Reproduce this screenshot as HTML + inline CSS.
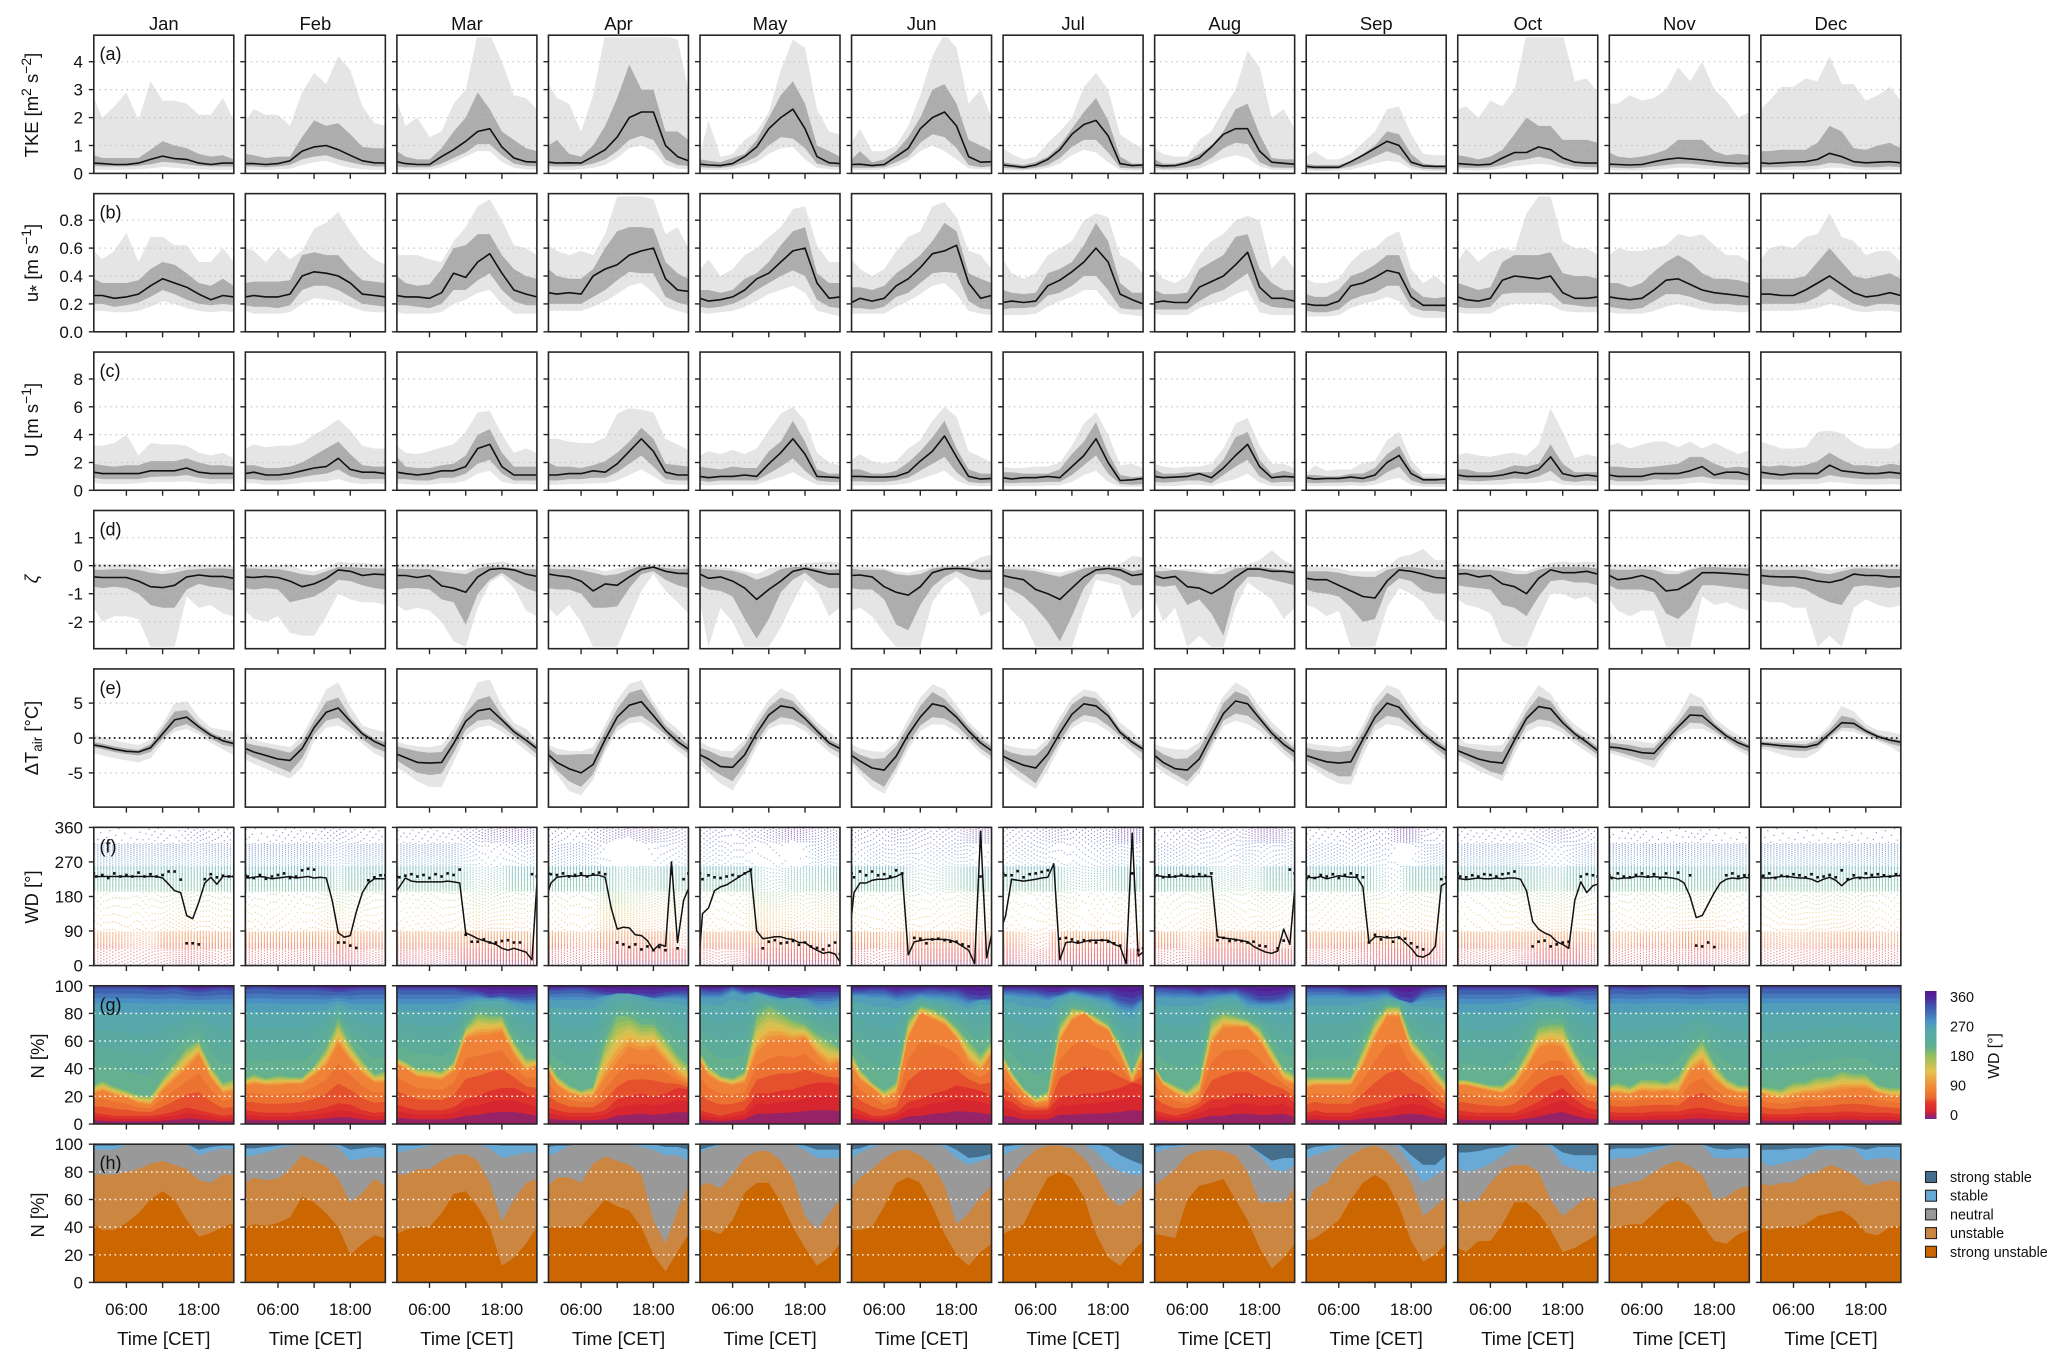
<!DOCTYPE html>
<html lang="en">
<head>
<meta charset="utf-8">
<title>Monthly diurnal cycles of turbulence and wind</title>
<style>
html,body{margin:0;padding:0;background:#fff;}
svg{display:block;font-family:"Liberation Sans",sans-serif;}
</style>
</head>
<body>
<svg id="chart" xmlns="http://www.w3.org/2000/svg" width="2067" height="1368" viewBox="0 0 2067 1368"></svg>
<script>
const months=['Jan','Feb','Mar','Apr','May','Jun','Jul','Aug','Sep','Oct','Nov','Dec'];
const hours=[0.6,2,4,6,8,10,12,14,16,18,20,22,23.8];
const windHours=[0.6,1,2,3,4,5,6,7,8,9,10,11,12,13,14,15,16,17,18,19,20,21,22,23,23.8];
const timeTicks=[6,12,18];
const timeLabels=['06:00','','18:00'];

const tkeP95=[[2.7,2.0,2.4,2.9,1.9,3.3,2.6,2.6,2.5,2.1,2.1,2.7,1.9],[1.9,2.3,2.1,2.1,1.7,2.9,3.6,3.2,4.2,3.7,2.4,1.8,1.7],[2.6,1.7,2.0,1.3,1.5,2.5,3.0,5,5,4,2.8,2.7,2.3],[3.2,2.7,2.5,1.5,2.8,5,5,5,5,5,4.9,4.8,3.0],[.7,1.9,.6,.7,1.2,1.5,2.2,3.7,4.8,4.5,2.3,1.5,1.4],[1.1,1.6,.8,.8,1.0,1.7,2.8,4.2,5,4.5,2.5,3,2],[.9,.7,.5,.6,1.1,1.5,2.0,3.1,3.6,3.0,1.4,1.1,.9],[.9,.7,.6,.6,1.2,1.5,2.3,3.0,4.4,3.8,2.0,2.3,1.6],[.6,.8,.5,.5,.7,1.1,1.5,2.3,2.4,1.4,.7,.65,.65],[2.3,2.4,2.0,2.6,2.4,3.0,5,5,5,5,3.3,3.4,2.9],[2.5,2.5,2.8,2.6,2.7,3.0,3.8,3.3,4.0,3.0,2.6,2.0,2.2],[2.3,2.6,3.1,3.1,3.4,3.3,4.2,3.2,3.2,2.6,2.8,3.1,2.6]];
const tkeP75=[[.65,.55,.55,.55,.55,.85,1.15,1.0,.9,.7,.6,.65,.5],[.7,.65,.55,.6,.6,1.3,1.9,1.7,1.8,1.4,.95,.9,.9],[.8,.6,.5,.5,.9,1.5,2.0,2.9,2.3,1.5,1.2,.9,.8],[1.0,1.2,.7,.6,1.0,1.7,2.7,3.9,3.0,3.0,1.5,1.5,1.2],[.5,.45,.4,.55,.7,1.2,2,2.8,3.3,2.5,1,.8,.6],[.5,.8,.4,.5,.8,1.3,2,3.0,3.2,2.5,1.2,1.0,.8],[.4,.35,.3,.4,.6,1.0,1.6,2.2,2.7,1.9,.6,.35,.35],[.5,.35,.35,.45,.7,1.0,1.5,2.3,2.5,1.4,.55,.5,.5],[.35,.3,.3,.3,.45,.7,1.0,1.5,1.4,.7,.35,.3,.3],[.65,.6,.5,.6,.85,1.4,2.0,1.7,1.7,1.2,1.2,1.2,1.1],[.75,.6,.55,.6,.7,.85,1.2,1.2,1.2,.8,.65,.7,.65],[.8,.8,.85,.85,.85,1.1,1.7,1.5,.9,.85,1.0,1.1,.9]];
const tkeMed=[[.37,.35,.32,.32,.37,.5,.62,.53,.5,.37,.32,.37,.37],[.35,.35,.32,.35,.45,.8,.95,1.0,.85,.65,.45,.38,.37],[.42,.35,.32,.32,.6,.85,1.15,1.5,1.6,.95,.55,.42,.4],[.4,.37,.38,.37,.6,.85,1.3,2.0,2.2,2.2,1.0,.6,.45],[.33,.3,.28,.35,.6,.95,1.6,2.0,2.3,1.6,.6,.38,.35],[.32,.33,.28,.32,.6,.9,1.6,2.0,2.2,1.7,.6,.4,.42],[.3,.27,.22,.3,.5,.85,1.4,1.75,1.9,1.35,.35,.28,.3],[.3,.27,.28,.38,.55,.95,1.4,1.6,1.6,.8,.4,.36,.33],[.25,.22,.22,.22,.42,.65,.9,1.15,1.0,.4,.27,.25,.25],[.35,.33,.3,.33,.55,.75,.75,.95,.85,.55,.4,.37,.37],[.33,.32,.3,.32,.42,.5,.55,.52,.48,.42,.38,.35,.37],[.38,.35,.38,.4,.42,.5,.72,.6,.42,.38,.4,.42,.38]];
const tkeP25=[[.27,.25,.25,.25,.27,.33,.42,.38,.33,.27,.25,.25,.25],[.25,.25,.22,.25,.3,.5,.6,.65,.5,.4,.3,.25,.25],[.25,.22,.22,.22,.35,.55,.75,1.05,1.05,.65,.35,.27,.25],[.27,.25,.25,.27,.35,.5,.8,1.2,1.35,1.2,.5,.3,.27],[.23,.2,.2,.25,.4,.6,1.0,1.3,1.25,.9,.35,.25,.22],[.2,.2,.2,.22,.4,.6,1.1,1.4,1.3,.9,.3,.22,.25],[.2,.18,.15,.2,.3,.55,.95,1.2,1.2,.75,.2,.18,.18],[.2,.17,.18,.22,.3,.55,.9,1.1,1.05,.4,.22,.2,.2],[.17,.15,.15,.17,.25,.4,.6,.8,.65,.27,.17,.15,.15],[.22,.2,.2,.22,.3,.45,.5,.6,.5,.35,.25,.23,.22],[.22,.2,.18,.2,.25,.3,.35,.35,.3,.27,.23,.22,.2],[.22,.22,.22,.25,.25,.28,.38,.35,.25,.22,.22,.25,.22]];
const tkeP05=[[.15,.13,.13,.13,.15,.18,.23,.2,.17,.15,.13,.13,.13],[.15,.13,.13,.15,.17,.3,.4,.45,.3,.2,.15,.13,.13],[.13,.13,.13,.13,.22,.4,.6,.8,.8,.4,.2,.15,.13],[.15,.13,.13,.15,.2,.3,.55,.9,1.0,.8,.3,.17,.15],[.13,.12,.12,.15,.25,.4,.7,.9,.95,.5,.2,.15,.12],[.12,.12,.12,.15,.25,.45,.8,1.0,.8,.5,.18,.15,.15],[.12,.1,.1,.12,.2,.35,.65,.85,.75,.4,.12,.1,.1],[.12,.1,.1,.12,.18,.35,.55,.65,.55,.25,.13,.12,.12],[.1,.08,.08,.1,.13,.25,.35,.45,.4,.15,.1,.08,.08],[.13,.12,.1,.12,.18,.25,.3,.35,.3,.2,.15,.13,.12],[.12,.1,.1,.1,.13,.17,.2,.2,.17,.15,.13,.12,.1],[.12,.12,.12,.13,.13,.15,.2,.2,.15,.12,.12,.13,.12]];

const ustarP95=[[.58,.52,.58,.71,.5,.68,.68,.62,.62,.5,.5,.6,.5],[.6,.58,.5,.6,.52,.58,.74,.78,.86,.72,.6,.52,.48],[.55,.55,.55,.52,.5,.65,.75,.9,.95,.8,.62,.6,.55],[.62,.58,.55,.58,.55,.7,.97,.97,.97,.95,.7,.75,.6],[.45,.52,.4,.45,.55,.6,.68,.75,.88,.9,.62,.5,.5],[.52,.45,.4,.45,.58,.68,.72,.9,.93,.82,.58,.55,.45],[.52,.42,.38,.42,.55,.6,.65,.8,.85,.82,.55,.5,.42],[.45,.38,.35,.4,.55,.65,.7,.8,.83,.8,.45,.55,.45],[.38,.35,.35,.38,.5,.58,.6,.68,.72,.45,.35,.4,.33],[.5,.6,.5,.57,.6,.58,.85,.97,.97,.65,.6,.6,.55],[.55,.6,.58,.58,.6,.62,.7,.68,.7,.62,.55,.55,.5],[.52,.6,.62,.6,.68,.7,.85,.68,.65,.55,.58,.58,.5]];
const ustarP75=[[.38,.35,.35,.35,.37,.45,.5,.48,.42,.35,.33,.38,.33],[.35,.36,.36,.36,.37,.55,.57,.55,.55,.45,.37,.36,.35],[.4,.35,.33,.34,.45,.6,.62,.7,.7,.55,.45,.4,.38],[.45,.4,.38,.38,.45,.6,.72,.75,.75,.74,.5,.42,.38],[.3,.3,.28,.3,.38,.42,.5,.62,.72,.75,.42,.35,.35],[.32,.32,.3,.33,.42,.48,.55,.65,.78,.72,.42,.38,.35],[.3,.28,.27,.28,.42,.45,.5,.62,.78,.65,.35,.28,.28],[.3,.27,.27,.28,.45,.5,.55,.68,.7,.45,.35,.3,.3],[.27,.25,.25,.3,.4,.43,.48,.55,.55,.32,.25,.24,.25],[.35,.33,.3,.32,.5,.55,.55,.55,.57,.42,.4,.4,.38],[.35,.35,.32,.35,.43,.5,.55,.5,.42,.38,.38,.37,.35],[.38,.38,.38,.38,.4,.5,.6,.5,.4,.38,.4,.42,.38]];
const ustarMed=[[.26,.26,.24,.25,.27,.33,.38,.35,.32,.27,.23,.26,.25],[.25,.26,.25,.25,.27,.4,.43,.42,.4,.35,.27,.26,.25],[.26,.25,.25,.24,.28,.42,.39,.5,.56,.42,.3,.27,.25],[.28,.27,.28,.27,.4,.45,.48,.55,.58,.6,.38,.3,.29],[.24,.22,.23,.25,.3,.38,.42,.5,.58,.6,.35,.24,.25],[.21,.24,.22,.24,.33,.38,.46,.56,.58,.62,.35,.24,.26],[.21,.22,.21,.22,.33,.37,.43,.5,.6,.5,.27,.23,.2],[.21,.22,.21,.21,.32,.36,.4,.48,.57,.32,.24,.24,.22],[.2,.19,.19,.22,.33,.35,.39,.44,.42,.25,.19,.19,.19],[.25,.23,.22,.24,.37,.4,.39,.38,.4,.28,.24,.24,.25],[.25,.24,.23,.24,.3,.37,.38,.34,.3,.28,.27,.26,.25],[.27,.27,.26,.26,.3,.35,.4,.34,.28,.25,.26,.28,.26]];
const ustarP25=[[.2,.2,.18,.19,.21,.25,.3,.27,.23,.2,.19,.2,.19],[.19,.18,.18,.17,.19,.3,.33,.33,.3,.25,.2,.19,.18],[.19,.19,.18,.17,.2,.3,.3,.37,.42,.3,.22,.19,.19],[.2,.2,.2,.2,.25,.3,.37,.43,.42,.42,.25,.21,.19],[.18,.17,.18,.2,.24,.3,.35,.4,.44,.4,.23,.18,.17],[.17,.17,.16,.18,.25,.28,.35,.42,.43,.42,.22,.17,.16],[.16,.17,.17,.18,.26,.28,.33,.4,.4,.3,.17,.16,.16],[.16,.16,.16,.16,.22,.27,.3,.36,.42,.22,.18,.17,.17],[.15,.14,.14,.16,.23,.26,.28,.33,.33,.18,.15,.15,.14],[.18,.17,.17,.18,.27,.28,.28,.28,.28,.2,.19,.18,.18],[.18,.17,.16,.17,.22,.27,.27,.25,.22,.2,.2,.19,.19],[.2,.2,.2,.2,.21,.25,.31,.25,.2,.18,.2,.2,.19]];
const ustarP05=[[.15,.15,.14,.14,.15,.18,.22,.2,.17,.15,.14,.15,.14],[.15,.13,.13,.13,.14,.2,.24,.23,.22,.18,.15,.14,.14],[.14,.13,.13,.13,.14,.2,.23,.28,.3,.2,.13,.13,.13],[.15,.15,.15,.15,.18,.22,.27,.33,.35,.28,.18,.15,.13],[.14,.13,.14,.15,.18,.22,.27,.3,.33,.28,.15,.13,.11],[.13,.13,.13,.13,.18,.22,.27,.33,.35,.27,.15,.13,.12],[.12,.12,.12,.13,.18,.22,.25,.3,.3,.2,.13,.12,.11],[.13,.12,.12,.12,.17,.2,.22,.27,.3,.14,.12,.12,.12],[.11,.11,.11,.12,.17,.2,.22,.25,.22,.12,.1,.1,.1],[.14,.13,.13,.13,.18,.2,.2,.2,.19,.15,.14,.14,.14],[.14,.13,.13,.13,.15,.18,.2,.18,.16,.15,.15,.14,.14],[.15,.15,.15,.15,.16,.17,.2,.18,.15,.14,.15,.15,.14]];

const speedP95=[[3.2,3.2,3.4,4.0,2.5,3.4,3.3,3.3,3.2,2.7,2.5,2.7,2.3],[3,3.3,3.1,3.2,3.2,3.4,4,4.5,5.1,4.3,3.2,3,3],[3.2,2.7,2.6,2.8,3.1,3.3,4.2,5.6,5.7,4,2.7,3,2.7],[3.7,3.7,3.5,3.4,3.4,3.8,5.5,5.9,5.8,5.6,3.7,3.3,2.9],[2.5,2.8,2.6,2.9,2.6,3.0,4.3,5.5,6,5,2.7,2,1.8],[2.2,2.6,2.1,1.9,2.1,3,3.6,5,6,5.3,2.8,2.4,2],[1.7,1.6,1.6,1.7,1.7,2,3.2,4.8,5.6,4,1.8,1.9,1.6],[1.9,1.7,1.6,1.7,1.7,1.9,3,4.8,5.2,3.2,1.9,1.9,1.6],[1.2,1.8,1.4,1.5,1.5,2,2.1,3.6,4.2,2.2,1.2,1.2,1.1],[2.5,2.7,2.5,2.4,2.6,2.7,2.5,3.3,5.9,4.2,2.3,2.6,2.4],[3.2,3.4,3,3.3,3.5,3.5,3.1,3.5,3,3.4,3,2.6,2.9],[3.5,3.3,3,3,3.1,4.2,4.3,4.1,3.4,3,3,3,3.5]];
const speedP75=[[1.9,1.8,1.7,1.8,1.8,2.1,2.1,2.1,2.3,2.0,1.8,1.8,1.7],[1.8,1.8,1.6,1.6,1.7,2,2.5,3,3.5,2.6,1.8,1.7,1.7],[2.4,1.7,1.6,1.6,1.8,1.9,2.5,4,4.4,2.7,1.7,1.7,1.7],[2,1.7,1.7,1.6,1.8,2.1,2.7,3.5,4.5,3.7,1.9,1.8,1.7],[1.7,1.6,1.5,1.7,1.6,1.6,2.8,3.5,5,3.5,1.5,1.2,1.2],[1.5,1.5,1.2,1.2,1.4,2,2.8,3.8,5,3,1.5,1.2,1.2],[1.3,1.3,1.2,1.2,1.2,1.5,2.6,3.5,4.9,2.7,1.1,.95,1],[1.5,1.2,1.2,1.3,1.3,1.3,2.2,3.8,4.2,2.2,1.2,1.4,1.2],[1.1,1.1,1,1,1.2,1.2,1.6,2.6,3.2,1.6,.9,.9,.8],[1.5,1.5,1.3,1.3,1.5,1.8,1.7,1.9,3.3,1.9,1.3,1.3,1.3],[1.7,1.7,1.6,1.6,1.7,1.8,1.9,2.4,2.4,1.9,1.6,1.7,1.6],[1.8,1.7,1.8,1.7,1.8,2.1,2.7,2.2,1.8,1.8,1.7,1.9,1.8]];
const speedMed=[[1.3,1.2,1.2,1.2,1.2,1.4,1.4,1.4,1.6,1.3,1.2,1.2,1.2],[1.2,1.3,1.1,1.1,1.2,1.4,1.6,1.7,2.3,1.5,1.3,1.3,1.2],[1.3,1.2,1.1,1.2,1.4,1.4,1.7,3.0,3.3,1.7,1.1,1.1,1.1],[1.1,1.1,1.2,1.2,1.4,1.3,1.9,2.8,3.7,2.8,1.3,1.1,1.1],[1,.9,1,1,1.1,1,1.9,2.7,3.7,2.6,1,.95,.9],[1,1,.95,.95,1,1.3,2.1,2.8,3.9,2.4,1,.8,.85],[.9,.8,.9,.9,1,.9,1.7,2.5,3.7,2.0,.7,.75,.85],[1,.9,.95,1,1.2,.9,1.6,2.5,3.3,1.7,.9,1,.95],[.9,.8,.85,.85,.95,.85,1.1,2.0,2.5,1.2,.75,.75,.8],[1.1,1,1,1,1.1,1.3,1.2,1.5,2.4,1.2,1,1.1,1],[1.1,1,1,1,1.2,1.2,1.2,1.4,1.7,1.1,1.3,1.3,1.1],[1.3,1.2,1.1,1.2,1.2,1.2,1.8,1.4,1.3,1.2,1.2,1.3,1.2]];
const speedP25=[[.9,.8,.8,.8,.8,.95,1,1,1.1,.9,.8,.8,.8],[.8,.8,.7,.7,.8,.95,1.1,1.2,1.5,1.0,.8,.8,.8],[.8,.8,.7,.7,.9,.9,1.2,1.9,2.2,1.2,.7,.7,.7],[.7,.7,.8,.8,.9,.9,1.3,1.9,2.5,1.7,.8,.7,.7],[.7,.6,.7,.7,.7,.7,1.2,1.7,2.3,1.4,.7,.6,.6],[.65,.65,.6,.6,.7,.9,1.4,1.9,2.4,1.3,.6,.5,.55],[.55,.5,.55,.55,.6,.6,1.1,1.8,2.5,1.2,.45,.4,.45],[.6,.55,.6,.7,.7,.5,1.1,1.7,2.2,1,.55,.6,.6],[.55,.5,.55,.55,.6,.55,.7,1.3,1.7,.7,.45,.45,.45],[.75,.7,.65,.7,.75,.85,.8,1,1.4,.7,.6,.7,.65],[.75,.65,.65,.65,.8,.75,.8,.9,1,.8,.8,.75,.7],[.85,.8,.75,.8,.8,.8,1.1,.95,.85,.8,.8,.85,.8]];
const speedP05=[[.55,.45,.45,.45,.5,.6,.6,.6,.65,.55,.45,.5,.45],[.5,.5,.4,.4,.45,.55,.6,.65,.8,.55,.45,.5,.45],[.5,.45,.4,.4,.5,.5,.7,1.2,1.4,.6,.45,.45,.4],[.4,.4,.45,.45,.5,.5,.7,1.1,1.5,1,.45,.4,.4],[.4,.35,.4,.4,.4,.4,.7,.95,1.3,.8,.4,.35,.35],[.35,.35,.35,.35,.4,.5,.8,1.1,1.4,.7,.35,.3,.3],[.3,.3,.3,.3,.35,.35,.6,1.1,1.4,.6,.25,.25,.25],[.35,.3,.3,.4,.4,.3,.6,.8,1.2,.55,.3,.3,.3],[.3,.3,.3,.3,.35,.3,.4,.7,.9,.4,.25,.25,.25],[.45,.4,.4,.4,.4,.5,.5,.55,.7,.4,.35,.35,.35],[.4,.35,.35,.35,.4,.4,.4,.5,.55,.45,.4,.4,.35],[.45,.4,.4,.4,.45,.45,.6,.55,.45,.4,.4,.45,.4]];

const zetaP95=[[.1,.05,.05,.05,.05,-.1,-.2,-.1,0,.05,0,0,0],[.05,0,0,0,.05,-.15,-.2,-.1,.15,.1,.1,.05,.05],[.05,.05,.05,.05,0,-.15,-.15,.05,.1,.15,.05,0,.05],[.05,0,0,-.05,-.1,-.2,-.1,-.05,.05,.08,.05,0,0],[.02,-.02,-.05,-.1,-.2,-.3,-.1,-.02,.02,.1,.12,.15,.1],[0,-.05,-.05,-.1,-.2,-.25,-.15,-.05,0,0,.05,.3,.4],[.02,-.05,-.05,-.1,-.2,-.25,-.15,-.05,0,.05,.05,.35,.3],[0,-.05,-.15,-.1,-.15,-.25,-.1,0,.05,.2,.55,.2,0],[0,-.05,-.05,-.1,-.2,-.2,-.2,-.05,.3,.4,.6,.2,.2],[.1,.05,0,-.05,-.05,-.15,-.2,-.05,.1,.15,.1,.15,.1],[.05,.05,0,0,.02,-.15,-.2,-.1,.05,.05,.05,.05,.05],[.05,0,0,0,0,-.1,-.15,-.1,0,0,.05,.05,.05]];
const zetaP75=[[-.15,-.15,-.12,-.12,-.15,-.25,-.3,-.25,-.15,-.12,-.1,-.1,-.12],[-.1,-.1,-.12,-.12,-.2,-.3,-.35,-.2,-.05,-.05,-.08,-.1,-.1],[-.1,-.12,-.12,-.12,-.2,-.25,-.3,-.1,-.02,-.03,-.1,-.12,-.12],[-.1,-.12,-.12,-.15,-.25,-.35,-.3,-.15,0,-.02,-.08,-.12,-.1],[-.1,-.12,-.15,-.18,-.3,-.5,-.35,-.12,-.05,-.03,-.1,-.15,-.12],[-.1,-.15,-.15,-.15,-.3,-.35,-.3,-.1,-.05,-.02,-.05,-.12,-.1],[-.12,-.12,-.15,-.2,-.3,-.4,-.25,-.1,-.03,-.03,-.05,-.2,-.12],[-.2,-.2,-.15,-.2,-.25,-.3,-.3,-.1,-.05,-.05,-.1,-.15,-.15],[-.2,-.2,-.2,-.25,-.35,-.4,-.4,-.15,-.05,-.05,-.1,-.15,-.15],[-.1,-.12,-.15,-.15,-.2,-.3,-.3,-.15,-.05,-.05,-.05,-.05,-.1],[-.12,-.15,-.15,-.12,-.15,-.3,-.3,-.15,-.05,-.05,-.07,-.08,-.1],[-.12,-.15,-.15,-.15,-.15,-.25,-.3,-.2,-.1,-.1,-.12,-.12,-.12]];
const zetaMed=[[-.4,-.42,-.42,-.42,-.55,-.75,-.78,-.7,-.4,-.33,-.38,-.38,-.45],[-.4,-.42,-.38,-.42,-.55,-.75,-.65,-.45,-.15,-.2,-.35,-.3,-.32],[-.35,-.35,-.42,-.35,-.72,-.8,-.95,-.4,-.13,-.1,-.15,-.3,-.38],[-.3,-.35,-.4,-.55,-.9,-.65,-.7,-.4,-.13,-.05,-.2,-.27,-.28],[-.3,-.45,-.4,-.55,-.8,-1.2,-.85,-.55,-.2,-.1,-.2,-.3,-.3],[-.35,-.33,-.4,-.75,-.95,-1.05,-.75,-.25,-.12,-.1,-.12,-.2,-.2],[-.35,-.42,-.5,-.85,-1,-1.2,-.8,-.4,-.15,-.1,-.15,-.35,-.3],[-.35,-.45,-.38,-.75,-.8,-1,-.75,-.4,-.12,-.12,-.2,-.2,-.25],[-.45,-.5,-.5,-.7,-.9,-1.1,-1.15,-.55,-.15,-.2,-.3,-.42,-.45],[-.3,-.28,-.4,-.35,-.65,-.75,-1,-.45,-.15,-.25,-.25,-.2,-.3],[-.35,-.5,-.45,-.35,-.5,-.9,-.85,-.6,-.25,-.25,-.27,-.3,-.33],[-.35,-.38,-.4,-.4,-.45,-.55,-.6,-.5,-.3,-.35,-.35,-.4,-.4]];
const zetaP25=[[-.75,-.8,-.75,-.8,-1,-1.4,-1.5,-1.5,-.85,-.65,-.75,-.8,-.9],[-.8,-.85,-.8,-.85,-1.3,-1.2,-1.1,-.85,-.5,-.55,-.7,-.8,-.85],[-.85,-.8,-.8,-.85,-1.2,-1.3,-2.1,-1,-.5,-.25,-.55,-.8,-.95],[-.8,-.85,-.85,-1,-1.5,-1.5,-1.45,-.8,-.3,-.2,-.5,-.7,-.8],[-.7,-.85,-.9,-1.1,-1.9,-2.6,-1.9,-.95,-.5,-.25,-.6,-.8,-.8],[-.8,-.85,-.85,-1.2,-2.1,-2.3,-1.4,-.75,-.4,-.2,-.4,-.5,-.5],[-.75,-.85,-1.1,-1.5,-2,-2.7,-1.8,-.8,-.3,-.3,-.45,-.7,-.7],[-.7,-.75,-.7,-1.4,-1.2,-1.7,-2.5,-.9,-.4,-.4,-.5,-.6,-.7],[-.85,-.95,-1,-1.1,-1.5,-2.0,-1.9,-.8,-.45,-.55,-.9,-1,-1],[-.7,-.75,-.8,-.85,-1.4,-1.5,-1.8,-1.1,-.55,-.5,-.6,-.6,-.7],[-.7,-.85,-.85,-.85,-.95,-1.7,-1.9,-1.5,-.7,-.7,-.75,-.8,-.85],[-.65,-.7,-.75,-.75,-.85,-1.1,-1.3,-1.4,-.75,-.7,-.75,-.8,-.75]];
const zetaP05=[[-1.5,-2,-1.8,-1.8,-1.9,-2.9,-2.9,-2.9,-1.1,-1.5,-1.4,-1.7,-1.8],[-1.6,-1.9,-2,-1.8,-2.4,-2.5,-2.5,-1.8,-1,-1.2,-1.3,-1.3,-1.4],[-1.4,-1.6,-1.5,-1.6,-2,-2.7,-2.9,-1.5,-.6,-.35,-.8,-1.6,-1.8],[-1.5,-1.8,-1.4,-2.0,-2.9,-2.9,-2.9,-1.9,-.9,-.3,-.9,-1.3,-1.7],[-1.3,-2.9,-1.5,-2,-2.9,-2.9,-2.9,-2.2,-1.3,-.5,-.9,-1.8,-1.5],[-1.6,-1.5,-1.8,-2.4,-2.9,-2.9,-2.9,-1.3,-.7,-.4,-.8,-1.8,-1.6],[-1.2,-1.6,-2,-2.9,-2.9,-2.9,-2.9,-1.6,-.5,-.6,-.7,-1.9,-1.5],[-1.2,-2,-1.5,-2.9,-2.5,-2.9,-2.9,-1.5,-.6,-.9,-1.2,-1.9,-1.5],[-1.4,-1.5,-1.8,-1.6,-2.9,-2.9,-2.9,-1.5,-.8,-1,-1.3,-1.9,-2],[-1.2,-1.4,-1.5,-1.7,-2.7,-2.9,-2.9,-1.9,-1,-1,-1.2,-1.1,-1.4],[-1.2,-1.6,-1.8,-1.6,-1.6,-2.9,-2.9,-2.9,-1.1,-1.4,-1.3,-1.5,-1.6],[-1.2,-1.3,-1.3,-1.5,-1.5,-2.9,-2.5,-2.9,-1.5,-1.2,-1.4,-1.5,-1.4]];

const dtP95=[[.5,.1,-.3,-.7,-1,-.2,2,5,5.3,3,1.5,1.2,.9],[.8,-.2,-.7,-1,-1.3,.3,3.5,7,8,4.5,1.8,1.2,.8],[-.5,-.9,-1.2,-1.3,-1,1.3,4.5,8,8.4,4.6,2.2,1.3,-.3],[-1,-1.5,-1.8,-1.9,-1.3,1.9,5.5,7.8,8.3,5.2,2.7,1.3,-.4],[-.5,-1.2,-1.8,-1.9,-.2,2.8,5.5,7.1,6.3,4.2,2.3,.9,-.5],[-.9,-1.5,-1.9,-2,-.5,2.7,5.8,7.7,7,4.7,2.3,.7,-.8],[-.8,-1.2,-1.5,-1.6,-.1,3,5.7,7,6.6,4.7,2.2,.9,-.7],[-.9,-1.3,-1.6,-1.7,-.6,2.7,6,8,7,4.5,2.3,.7,-1],[-.7,-.9,-1.1,-1.3,-1,1.8,5.5,7.6,7,4.3,2,.7,-.9],[.2,-.8,-.9,-1.1,-1,1.7,5,7.6,6.3,3.7,1.9,.7,-.2],[.8,-.2,-.3,-.5,-.8,1,3.2,6.5,5.6,2.9,1.5,.4,-.2],[.2,.1,-.2,-.4,-.4,.1,1.9,4.6,3.8,2,1.1,.9,.5]];
const dtP75=[[-.6,-.8,-1.2,-1.5,-1.7,-.9,1.4,3.8,4.0,2.1,.8,0,-.4],[-.7,-1,-1.3,-1.7,-2.1,-.6,2.5,5.2,5.8,3,1,-.1,-.6],[-1.2,-1.5,-1.9,-2.1,-2,.3,3.5,5.5,6,3.2,1.4,.2,-1],[-1.5,-2.4,-2.4,-2.3,-2.3,1,4.2,6.5,7,4.5,1.8,.3,-1],[-1.4,-1.8,-2.6,-2.9,-1,1.9,4.4,5.8,5.3,3.4,1.6,-.2,-1],[-1.7,-2.4,-3,-2.9,-1.2,1.7,4.6,6.6,5.6,3.7,1.7,-.1,-1.2],[-1.6,-2.1,-2.5,-2.5,-.9,2,4.8,6,5.7,3.8,1.3,-.2,-1.2],[-1.5,-2.3,-3,-2.9,-1.5,1.5,5,6.7,6,3.4,1.3,-.2,-1.5],[-1.4,-1.7,-1.9,-2,-1.8,.9,4.4,6.5,5.5,3.1,1.1,-.2,-1.3],[-1,-1.3,-1.7,-1.9,-2,.8,3.8,6,5.3,2.9,1,-.1,-1.3],[-.6,-.8,-1,-1.4,-1.4,.5,2.3,4.6,4.5,2.2,.7,-.2,-1],[-.5,-.6,-.7,-.8,-.9,-.3,1.2,3.2,2.8,1.4,.5,0,-.3]];
const dtMed=[[-1,-1.2,-1.6,-1.9,-2,-1.4,.6,2.6,3.0,1.6,.4,-.4,-.8],[-1.5,-2,-2.5,-3,-3.2,-1.5,1.5,3.7,4.3,2.4,.6,-.5,-1.2],[-2.3,-2.8,-3.5,-3.6,-3.5,-.8,2.4,3.9,4.2,2.6,.9,-.3,-1.5],[-2.4,-3.5,-4.4,-5,-3.8,-.2,3,4.7,5.2,3.2,1.1,-.5,-1.6],[-2.4,-3,-4.1,-4.2,-2.4,.7,3.3,4.6,4.3,2.8,1,-.7,-1.5],[-2.5,-3.3,-4.3,-4.6,-2.6,.5,3,4.9,4.5,3,1,-.7,-1.8],[-2.6,-3.2,-3.9,-4.3,-2.3,.7,3.4,4.9,4.6,3.2,.8,-.6,-1.6],[-2.5,-3.5,-4.4,-4.6,-3,.3,3.5,5.3,4.9,2.8,.7,-.9,-2],[-2.5,-2.9,-3.4,-3.6,-3.4,-.2,3,5,4.4,2.4,.6,-.8,-1.8],[-1.8,-2.3,-3,-3.4,-3.6,-.3,2.8,4.5,4.2,2.2,.6,-.6,-1.8],[-1.3,-1.4,-1.7,-2.1,-2.2,-.3,1.6,3.3,3.2,1.7,.3,-.7,-1.3],[-.8,-.9,-1.1,-1.2,-1.3,-.9,.6,2.2,2.1,1,.2,-.3,-.6]];
const dtP25=[[-1.3,-1.6,-2,-2.3,-2.5,-2,-.1,1.5,2.0,1,-.1,-1,-1.3],[-2.2,-2.8,-3.5,-4.2,-4.9,-2.9,.5,2.5,2.9,1.5,-.2,-1.4,-2],[-3.2,-4,-5,-5.3,-5.1,-2.1,1.2,2.5,2.7,1.7,.3,-1,-2.3],[-3,-4.6,-6.2,-7,-5.2,-1.3,1.7,2.9,3.2,2,.5,-1.1,-2.2],[-3,-4.2,-5.3,-6.2,-3.8,-.5,2,3,2.7,1.8,.3,-1.3,-2.2],[-3.3,-4.5,-6,-7,-4.2,-.7,1.8,3,2.8,1.8,.1,-1.5,-2.6],[-3.1,-4,-5.2,-6.5,-3.5,-.5,2.2,3.3,3,1.8,.3,-1.2,-2.2],[-3.2,-4.2,-5.2,-6.2,-4.3,-.8,2.5,3.5,3.2,1.9,.1,-1.6,-2.8],[-3.2,-3.8,-4.7,-5.5,-5.5,-1.3,1.9,3.2,2.9,1.5,0,-1.4,-2.6],[-2.4,-3,-3.9,-4.8,-5.3,-1.3,1.8,2.7,2.4,1.4,-.1,-1.3,-2.4],[-1.7,-2,-2.5,-3,-3.2,-1.1,.8,2.2,2.1,1,-.2,-1.3,-2],[-1.2,-1.3,-1.6,-1.8,-1.9,-1.4,.2,1.5,1.4,.6,-.2,-.8,-1.2]];
const dtP05=[[-2.1,-2.5,-2.9,-3.2,-3.5,-2.9,-.7,.9,1.3,.5,-.7,-1.6,-2.5],[-3.1,-3.7,-4.4,-5.2,-5.8,-4.2,-.4,1.5,1.8,.8,-.8,-2.2,-3],[-4.2,-5,-6.2,-7,-7,-3.5,.3,1.5,1.8,.9,-.4,-1.8,-3],[-3.8,-5.2,-7.6,-8.2,-6,-2,1,2.1,2.3,1.1,-.3,-1.8,-3],[-3.8,-5,-6.5,-7.5,-4.8,-1.3,1.3,2,1.9,1,-.5,-2,-3],[-3.8,-5.2,-7,-8,-5,-1.6,1,2,1.9,.9,-.5,-2.2,-3.3],[-3.8,-5,-6.2,-7.3,-4.6,-1.3,1.4,2.4,2.1,1,-.5,-2,-3.3],[-4,-5,-6,-7,-5,-1.6,1.7,2.5,2,1,-.7,-2.3,-3.6],[-3.8,-4.5,-5.7,-6.5,-6.7,-2.5,1,2,1.7,.8,-.6,-2.1,-3.3],[-3.2,-3.7,-4.7,-5.4,-6.2,-2.3,.9,1.7,1.5,.7,-.8,-2,-3],[-2.1,-2.5,-3,-3.6,-4.3,-1.7,.3,1.3,1.3,.5,-.6,-1.8,-2.6],[-1.5,-1.8,-2.4,-2.8,-2.9,-2,-.2,1,.9,.2,-.5,-1.2,-2.2]];

const wdMedian=[
[232,232,232,232,232,232,232,232,232,232,232,232,228,212,195,190,130,122,165,215,230,212,232,232,232],
[230,228,230,232,230,226,228,230,232,228,230,232,228,230,228,170,85,74,78,140,190,215,226,226,226],
[195,205,228,220,218,218,218,218,218,220,218,215,85,78,70,65,60,55,45,40,45,40,35,15,210],
[195,215,230,232,234,232,235,233,236,235,230,150,95,100,98,80,78,65,40,55,50,270,60,170,200],
[50,135,150,195,205,210,220,230,240,248,90,70,72,75,75,70,68,60,60,48,40,32,35,30,10],
[130,190,215,215,222,225,225,228,232,240,28,62,65,68,68,68,68,66,60,50,40,5,350,20,80],
[110,130,225,222,220,222,225,228,230,265,15,60,62,58,62,66,66,66,66,55,50,5,345,25,35],
[232,234,232,230,232,234,232,232,232,232,232,75,72,70,68,65,62,50,42,35,32,38,95,55,195],
[225,230,228,232,226,230,234,232,230,230,205,60,75,75,72,72,75,60,45,25,22,30,50,208,215],
[228,226,224,226,228,226,226,228,226,228,228,225,195,115,95,85,78,62,55,45,170,218,190,208,212],
[230,230,226,228,228,232,232,230,232,230,230,228,225,215,180,125,130,160,190,215,225,228,226,230,228],
[230,228,228,230,232,232,230,228,228,225,218,225,230,222,208,222,228,230,228,230,230,232,232,234,234]];
const wdMode=[
[240,232,236,228,240,232,236,232,242,232,238,232,236,245,245,224,58,58,55,225,238,230,234,232,232],
[235,232,228,236,226,232,236,240,228,232,248,252,250,null,null,null,60,60,52,46,null,222,230,235,235],
[232,230,234,238,232,236,228,238,232,240,236,250,80,62,62,68,60,60,64,66,60,60,null,238,232],
[240,238,236,240,232,236,240,232,238,242,238,null,60,55,48,55,42,50,40,48,40,240,45,225,240],
[240,225,235,230,228,232,236,232,240,250,null,45,62,66,58,60,64,54,60,50,46,42,52,60,30],
[240,230,245,235,245,235,238,232,248,240,null,72,70,58,68,70,66,62,62,55,50,null,232,null,null],
[240,235,235,246,230,238,240,244,248,null,70,72,68,62,66,64,60,66,62,58,52,null,240,40,45],
[232,235,230,235,232,236,234,232,238,234,240,66,72,64,66,64,60,62,52,50,null,45,65,250,240],
[225,232,228,236,232,238,228,236,240,235,230,60,80,68,74,62,72,70,58,48,42,null,null,225,230],
[240,232,230,235,232,238,236,232,238,240,245,null,null,50,62,65,50,55,60,62,null,232,238,235,232],
[235,228,240,232,230,236,240,232,238,228,240,null,242,null,235,52,50,60,48,null,235,240,232,235,235],
[232,234,240,228,234,232,238,235,230,238,230,232,236,230,248,225,235,228,240,236,238,235,232,238,236]];

const wdLevel45=[[8,7,6,6,6,6,7,9,12,10,8,6,7],[10,9,8,8,8,9,10,12,15,14,10,8,9],[14,12,10,10,10,12,18,20,24,26,26,22,18],[12,10,8,8,8,10,18,20,22,20,22,26,25],[10,8,6,8,10,22,22,24,25,28,30,30,28],[12,10,6,6,8,16,18,22,24,28,26,24,20],[18,16,10,10,10,20,20,22,22,24,26,30,28],[10,8,6,8,12,18,18,22,22,20,20,22,15],[8,10,8,8,8,12,14,16,20,22,20,14,10],[10,9,8,8,8,8,12,16,22,26,18,12,10],[9,8,8,8,9,9,9,11,12,10,9,8,8],[8,7,7,7,8,8,8,9,9,8,8,8,7]];
const wdLevel90=[[22,24,21,19,15,14,24,32,40,50,33,22,24],[28,29,28,28,29,29,35,42,58,46,36,30,30],[43,40,34,33,32,38,62,64,65,67,50,38,42],[38,28,22,20,20,33,45,56,53,55,45,35,30],[45,35,30,28,30,52,60,62,60,62,50,42,45],[42,32,26,18,22,62,80,76,72,62,45,38,50],[42,32,22,15,16,60,75,80,72,68,50,30,48],[38,28,22,18,22,58,70,70,70,60,45,32,28],[26,28,28,28,28,42,62,78,78,52,42,30,22],[28,28,26,24,22,28,40,55,58,55,40,28,26],[22,22,21,24,23,24,22,38,44,32,25,22,22],[22,20,18,20,22,22,24,25,26,26,22,20,20]];
const wdLevel195=[[28,31,27,24,21,20,33,44,55,60,42,30,32],[33,36,33,35,34,34,42,55,75,58,46,36,38],[48,45,40,40,38,45,70,80,78,78,60,48,47],[45,35,28,24,27,60,78,78,72,72,62,50,42],[52,42,35,33,38,78,85,80,75,72,65,60,55],[52,40,30,24,30,75,85,83,78,70,60,50,60],[50,38,26,19,24,72,84,82,78,72,58,38,58],[42,32,28,24,32,75,80,78,75,70,55,40,36],[34,34,34,34,34,55,75,85,85,62,52,40,30],[32,32,30,28,28,36,52,70,72,72,52,38,34],[28,30,27,32,32,30,35,50,60,44,33,28,28],[27,26,25,30,30,34,34,38,36,36,28,26,26]];
const wdLevel260=[[85,85,85,85,85,85,85,85,85,85,85,85,85],[85,85,85,85,85,85,85,85,88,85,85,85,85],[85,85,85,85,85,85,88,90,90,90,87,85,85],[88,88,88,88,88,92,95,95,93,90,90,90,88],[90,90,90,95,92,95,92,90,92,90,85,85,88],[92,92,90,90,88,88,92,90,90,88,85,90,88],[92,92,90,90,88,92,94,92,90,88,82,80,88],[90,90,90,90,90,90,92,92,85,85,85,85,88],[90,90,90,90,90,90,90,92,90,87,88,88,88],[85,85,85,85,85,86,88,90,90,90,88,85,85],[85,85,85,85,85,85,85,85,85,85,85,85,85],[85,85,85,85,85,85,85,85,85,85,85,85,85]];
const wdLevel320=[[99,99,99,99,99,98,98,99,97,96,97,98,97],[98,99,99,98,98,98,98,97,96,97,98,98,98],[98,98,98,98,98,98,96,95,92,93,92,92,93],[97,97,98,98,96,94,93,92,93,92,94,95,95],[97,96,96,99,96,96,94,92,90,92,94,94,94],[96,96,97,97,94,96,96,97,96,96,92,90,92],[97,97,97,96,94,94,97,96,95,95,90,88,92],[98,98,97,97,95,97,96,97,94,90,90,92,97],[98,98,98,98,96,96,97,97,90,88,96,98,98],[98,98,98,98,98,98,98,96,94,94,96,97,97],[98,99,98,98,99,99,99,98,98,99,99,99,99],[99,99,99,99,99,99,99,99,99,99,99,99,99]];
const wdKnots=[0,45,90,195,260,320,360];

const stabStrongUnstableTop=[[42,38,38,43,50,60,66,60,45,33,36,40,43],[40,42,41,43,47,62,58,50,40,20,28,34,32],[35,38,40,40,50,64,66,55,40,12,18,28,40],[40,40,40,40,50,60,55,52,40,20,8,22,35],[38,38,35,45,65,72,72,58,40,25,12,18,28],[38,38,40,55,72,76,72,55,35,20,12,22,28],[35,38,42,60,76,80,76,62,35,18,12,22,30],[35,34,32,60,70,72,75,60,45,25,10,18,28],[30,32,38,45,60,72,78,72,55,30,15,20,28],[25,22,30,30,42,58,58,50,38,22,25,30,35],[38,40,42,42,50,58,62,55,42,30,28,35,38],[40,38,40,40,42,48,50,52,46,36,34,40,41]];
const stabUnstableTop=[[78,78,78,80,82,86,88,85,82,74,72,78,78],[72,76,74,75,82,92,88,84,75,58,65,75,70],[78,78,82,82,88,92,93,88,72,44,60,72,75],[70,76,76,72,86,91,88,85,78,45,28,52,70],[70,72,68,78,90,95,95,88,75,48,38,50,60],[68,76,82,90,95,96,92,85,70,42,50,62,70],[72,78,88,96,99,99,97,90,78,62,55,62,70],[70,75,82,92,95,96,95,92,80,58,58,58,68],[55,68,72,85,92,97,99,95,85,72,48,55,62],[60,58,60,72,82,85,85,80,60,48,55,62,60],[68,70,72,74,80,85,88,84,78,60,62,68,70],[72,70,72,72,78,80,85,82,78,70,72,74,72]];
const stabNeutralTop=[[96,96,96,100,100,100,100,100,100,92,95,97,96],[91,92,94,97,99,100,100,100,98,88,90,91,90],[94,95,97,99,100,100,100,100,97,90,92,94,94],[92,94,99,100,100,100,100,100,98,96,92,92,88],[94,97,99,100,100,100,100,100,100,96,90,90,90],[90,94,98,100,100,100,100,100,98,90,85,88,90],[92,95,99,100,100,100,100,100,95,85,80,78,78],[93,96,98,99,100,100,100,100,100,92,82,80,85],[90,92,95,98,100,100,100,100,98,85,72,78,82],[83,80,82,86,92,98,100,100,98,85,82,80,80],[88,90,90,92,95,98,100,100,100,90,90,90,90],[88,84,86,88,90,96,96,96,97,88,90,90,88]];
const stabStableTop=[[99,99,99,100,100,100,100,100,100,96,98,99,99],[97,97,98,99,100,100,100,100,100,96,97,98,97],[99,99,99,100,100,100,100,100,100,99,99,99,99],[98,99,99,100,100,100,100,100,100,100,98,98,96],[96,98,100,100,100,100,100,100,100,99,96,96,96],[96,97,100,100,100,100,100,100,100,96,90,91,93],[98,99,100,100,100,100,100,100,100,98,92,88,85],[98,99,99,100,100,100,100,100,100,94,88,90,90],[96,98,99,100,100,100,100,100,100,92,85,85,92],[94,94,95,97,98,100,100,100,100,94,92,92,92],[96,97,97,97,98,99,100,100,100,97,96,97,97],[96,96,96,97,97,98,99,99,98,96,98,98,98]];

const tkeTicks=[0,1,2,3,4];
const ustarTicks=[0,.2,.4,.6,.8];
const speedTicks=[0,2,4,6,8];
const zetaTicks=[-2,-1,0,1];
const dtTicks=[-5,0,5];
const wdTicks=[0,90,180,270,360];
const percentTicks=[0,20,40,60,80,100];
const colorbarTicks=[0,90,180,270,360];
const legendLabels=['strong stable','stable','neutral','unstable','strong unstable'];
const legendColors=['#466f8e','#69a9d6','#999999','#cb8642','#cc6600'];
const wdColorStops=[[0,'#6b2a8f'],[10,'#a5205a'],[22,'#d6262f'],[45,'#e2382a'],[60,'#ea6a30'],[90,'#f08a38'],[135,'#e3c24e'],[180,'#8fbd62'],[205,'#5fae94'],[250,'#56a8ab'],[275,'#4a93c4'],[315,'#3f57ae'],[345,'#52229a'],[360,'#561889']];

/* ---------- layout and axis functions ---------- */
const NS='http://www.w3.org/2000/svg';
const svg=document.getElementById('chart');
const PANEL_W=140,PANEL_H=138.2;
const colLeft=c=>93.8+c*151.55;
const rowTop=r=>35.2+r*158.43;
const xScale=(c,h)=>colLeft(c)+32.6+(h-6)*6.03;
const yScale=(r,dom,v)=>rowTop(r)+PANEL_H-(v-dom[0])/(dom[1]-dom[0])*PANEL_H;
const fx=v=>Math.round(v*10)/10;

function add(parent,tag,attrs,text){
  const el=document.createElementNS(NS,tag);
  for(const k in attrs)el.setAttribute(k,attrs[k]);
  if(text!==undefined)el.textContent=text;
  parent.appendChild(el);
  return el;
}
function linePath(xs,ys){return xs.map((x,i)=>(i?'L':'M')+fx(x)+' '+fx(ys[i])).join('');}
function bandPath(xs,lo,hi){
  let d=linePath(xs,lo);
  for(let i=xs.length-1;i>=0;i--)d+='L'+fx(xs[i])+' '+fx(hi[i]);
  return d+'Z';
}
function hexRgb(h){return [1,3,5].map(i=>parseInt(h.substr(i,2),16));}
function wdColor(wd){
  for(let i=1;i<wdColorStops.length;i++){
    if(wd<=wdColorStops[i][0]){
      const a=wdColorStops[i-1],b=wdColorStops[i];
      const t=(wd-a[0])/(b[0]-a[0]);
      const ca=hexRgb(a[1]),cb=hexRgb(b[1]);
      return 'rgb('+ca.map((v,k)=>Math.round(v+(cb[k]-v)*t)).join(',')+')';
    }
  }
  return wdColorStops[wdColorStops.length-1][1];
}
function interpAt(xsIn,ys,x){
  for(let i=1;i<xsIn.length;i++){
    if(x<=xsIn[i]){
      const t=(x-xsIn[i-1])/(xsIn[i]-xsIn[i-1]);
      return ys[i-1]+(ys[i]-ys[i-1])*t;
    }
  }
  return ys[ys.length-1];
}
function wdLevelsAt(m,idx){return [0,wdLevel45[m][idx],wdLevel90[m][idx],wdLevel195[m][idx],wdLevel260[m][idx],wdLevel320[m][idx],100];}
function percentForWd(levels,wd){return interpAt(wdKnots,levels,wd);}
function wdForPercent(levels,p){
  for(let i=1;i<levels.length;i++){
    if(p<=levels[i]&&levels[i]>levels[i-1]){
      return wdKnots[i-1]+(wdKnots[i]-wdKnots[i-1])*(p-levels[i-1])/(levels[i]-levels[i-1]);
    }
  }
  return 360;
}

/* ---------- clip paths ---------- */
const defs=add(svg,'defs',{});
for(let r=0;r<8;r++){
  for(let c=0;c<12;c++){
    const cp=add(defs,'clipPath',{id:'clip-'+r+'-'+c});
    const inset=r<5?2:0.5;
    add(cp,'rect',{x:colLeft(c),y:rowTop(r)+inset,width:PANEL_W,height:PANEL_H-2*inset});
  }
}
const cbGrad=add(defs,'linearGradient',{id:'wd-gradient',x1:0,y1:1,x2:0,y2:0});
wdColorStops.forEach(s=>add(cbGrad,'stop',{offset:s[0]/360,'stop-color':s[1]}));

/* ---------- row configuration ---------- */
const bandRows=[
 {p05:tkeP05,p25:tkeP25,med:tkeMed,p75:tkeP75,p95:tkeP95,dom:[0,4.95],ticks:tkeTicks,fmt:v=>String(v)},
 {p05:ustarP05,p25:ustarP25,med:ustarMed,p75:ustarP75,p95:ustarP95,dom:[0,.99],ticks:ustarTicks,fmt:v=>v.toFixed(1)},
 {p05:speedP05,p25:speedP25,med:speedMed,p75:speedP75,p95:speedP95,dom:[0,9.94],ticks:speedTicks,fmt:v=>String(v)},
 {p05:zetaP05,p25:zetaP25,med:zetaMed,p75:zetaP75,p95:zetaP95,dom:[-2.96,1.97],ticks:zetaTicks,fmt:v=>String(v),zero:true},
 {p05:dtP05,p25:dtP25,med:dtMed,p75:dtP75,p95:dtP95,dom:[-9.9,9.9],ticks:dtTicks,fmt:v=>String(v),zero:true}
];
const rowDomains=[bandRows[0].dom,bandRows[1].dom,bandRows[2].dom,bandRows[3].dom,bandRows[4].dom,[0,360],[0,100],[0,100]];
const rowTicks=[tkeTicks,ustarTicks,speedTicks,zetaTicks,dtTicks,wdTicks,percentTicks,percentTicks];
const rowFormats=[bandRows[0].fmt,bandRows[1].fmt,bandRows[2].fmt,bandRows[3].fmt,bandRows[4].fmt,v=>String(v),v=>String(v),v=>String(v)];
const panelLetters=['(a)','(b)','(c)','(d)','(e)','(f)','(g)','(h)'];

/* ---------- panel renderers ---------- */
function drawGrid(parent,r,c,values,color,dash,width){
  const dom=rowDomains[r];
  values.forEach(v=>{
    const y=fx(yScale(r,dom,v));
    const ln=add(parent,'line',{x1:colLeft(c),x2:colLeft(c)+PANEL_W,y1:y,y2:y,stroke:color,'stroke-width':width,'stroke-dasharray':dash});
    
    
  });
}
function drawBandPanel(g,r,c){
  const cfg=bandRows[r];
  const xs=hours.map(h=>xScale(c,h));
  const ys=a=>a.map(v=>yScale(r,cfg.dom,v));
  const outer=add(g,'path',{d:bandPath(xs,ys(cfg.p05[c]),ys(cfg.p95[c])),fill:'#e5e5e5'});
  
  
  const inner=add(g,'path',{d:bandPath(xs,ys(cfg.p25[c]),ys(cfg.p75[c])),fill:'#adadad'});
  
  
  drawGrid(g,r,c,cfg.ticks.filter(v=>v!==0),'#bdbdbd','1.3 4.2',1.2);
  if(cfg.zero){
    const y=fx(yScale(r,cfg.dom,0));
    const zl=add(g,'line',{x1:colLeft(c),x2:colLeft(c)+PANEL_W,y1:y,y2:y,stroke:'#111','stroke-width':1.7,'stroke-dasharray':'1.7 3.3'});
    
    
  }
  const med=add(g,'path',{d:linePath(xs,ys(cfg.med[c])),fill:'none',stroke:'#111','stroke-width':1.6,'stroke-linejoin':'round'});
  
  
}
function drawWindScatter(g,c){
  const r=5,dom=rowDomains[5];
  const POINTS=84;
  const sampleOffsets=[0,.37,.74,.11,.48,.85,.22,.59,.96,.33,.7,.07,.44];
  const buckets={};
  for(let i=0;i<47;i++){
    const h=0.75+i*0.5;
    const levels=[0,wdLevel45[c],wdLevel90[c],wdLevel195[c],wdLevel260[c],wdLevel320[c]].map((a,k)=>k===0?0:interpAt(hours,a,h));
    levels.push(100);
    const x=fx(xScale(c,h)-.6);
    const off=sampleOffsets[(i+c*5)%sampleOffsets.length];
    for(let j=0;j<POINTS;j++){
      const q=(j+off)*100/POINTS;
      const wd=wdForPercent(levels,q);
      const b=Math.min(23,Math.floor(wd/15));
      buckets[b]=(buckets[b]||'')+'M'+x+' '+fx(yScale(r,dom,wd))+'h1.2v1.2h-1.2z';
    }
  }
  Object.keys(buckets).forEach(b=>{
    const pts=add(g,'path',{d:buckets[b],fill:wdColor(+b*15+7.5),'fill-opacity':.55});
    
    
  });
  const xm=windHours.map(h=>xScale(c,h));
  const ym=wdMedian[c].map(v=>yScale(r,dom,v));
  const med=add(g,'path',{d:linePath(xm,ym),fill:'none',stroke:'#111','stroke-width':1.5,'stroke-linejoin':'round'});
  
  
  wdMode[c].forEach((v,i)=>{
    if(v===null)return;
    const dot=add(g,'rect',{x:fx(xm[i]-1.3),y:fx(yScale(r,dom,v)-1.3),width:2.6,height:2.6,fill:'#111'});
    
    
  });
}
function drawWindStack(g,c){
  const r=6,dom=rowDomains[6];
  const xs=hours.map(h=>xScale(c,h));
  const bottom=yScale(r,dom,0);
  const bg=add(g,'rect',{x:colLeft(c),y:rowTop(r),width:PANEL_W,height:PANEL_H,fill:wdColor(352)});
  
  
  for(let k=22;k>=0;k--){
    const wdTop=(k+1)*15;
    const ys=hours.map((h,i)=>yScale(r,dom,percentForWd(wdLevelsAt(c,i),wdTop)));
    const base=xs.map(()=>bottom);
    const layer=add(g,'path',{d:bandPath(xs,base,ys),fill:wdColor(k*15+7.5)});
    
    
  }
  drawGrid(g,r,c,[20,40,60,80],'#ffffff','1.6 3.6',1.4);
}
function drawStability(g,c){
  const r=7,dom=rowDomains[7];
  const xs=hours.map(h=>xScale(c,h));
  const bottom=yScale(r,dom,0);
  const bg=add(g,'rect',{x:colLeft(c),y:rowTop(r),width:PANEL_W,height:PANEL_H,fill:legendColors[0]});
  
  
  const base=xs.map(()=>bottom);
  const ys=a=>a.map(v=>yScale(r,dom,v));
  const a1=add(g,'path',{d:bandPath(xs,base,ys(stabStableTop[c])),fill:legendColors[1]});
  
  
  const a2=add(g,'path',{d:bandPath(xs,base,ys(stabNeutralTop[c])),fill:legendColors[2]});
  
  
  const a3=add(g,'path',{d:bandPath(xs,base,ys(stabUnstableTop[c])),fill:legendColors[3]});
  
  
  const a4=add(g,'path',{d:bandPath(xs,base,ys(stabStrongUnstableTop[c])),fill:legendColors[4]});
  
  
  drawGrid(g,r,c,[20,40,60,80],'#ffffff','1.6 3.6',1.4);
}

/* ---------- build panels ---------- */
for(let r=0;r<8;r++){
  for(let c=0;c<12;c++){
    const panel=add(svg,'g',{});
    
    
    const clip=add(panel,'g',{'clip-path':'url(#clip-'+r+'-'+c+')'});
    
    
    if(r<5)drawBandPanel(clip,r,c);
    else if(r===5)drawWindScatter(clip,c);
    else if(r===6)drawWindStack(clip,c);
    else drawStability(clip,c);

    const frame=add(panel,'rect',{x:colLeft(c),y:rowTop(r),width:PANEL_W,height:PANEL_H,fill:'none',stroke:'#262626','stroke-width':1.6});
    
    

    const dom=rowDomains[r];
    rowTicks[r].forEach(v=>{
      const y=fx(yScale(r,dom,v));
      const tk=add(panel,'line',{x1:colLeft(c)-5,x2:colLeft(c),y1:y,y2:y,stroke:'#262626','stroke-width':1.4});
      
      
    });
    timeTicks.forEach((h,i)=>{
      const x=fx(xScale(c,h));
      const tk=add(panel,'line',{x1:x,x2:x,y1:rowTop(r)+PANEL_H,y2:rowTop(r)+PANEL_H+5.5,stroke:'#262626','stroke-width':1.4});
      
      
      if(r===7&&timeLabels[i]){
        const t=add(svg,'text',{x:x,y:1315,'text-anchor':'middle','font-size':17,fill:'#111'},timeLabels[i]);
        
        
      }
    });
    if(r===7){
      const t=add(svg,'text',{x:fx(colLeft(c)+70),y:1345,'text-anchor':'middle','font-size':18.6,fill:'#111'},'Time [CET]');
      
      
    }
    if(r===0){
      const t=add(svg,'text',{x:fx(colLeft(c)+70),y:30,'text-anchor':'middle','font-size':18.4,fill:'#111'},months[c]);
      
      
    }
    if(c===0){
      rowTicks[r].forEach(v=>{
        const t=add(svg,'text',{x:83,y:fx(yScale(r,dom,v)+6),'text-anchor':'end','font-size':17,fill:'#111'},rowFormats[r](v));
        
        
      });
      const t=add(svg,'text',{x:99.5,y:fx(rowTop(r)+25),'font-size':18,fill:'#111'},panelLetters[r]);
      
      
    }
  }
}

/* ---------- y axis titles ---------- */
const yTitles=[
 {x:38,y:105,parts:[['TKE [m',0,18.4],['2',-7,14],[' s',7,18.4],['−2',-7,14],[']',7,18.4]]},
 {x:38,y:263,parts:[['u',0,18.4],['*',5,18.4],[' [m s',-5,18.4],['−1',-7,14],[']',7,18.4]]},
 {x:38,y:420,parts:[['U [m s',0,18.4],['−1',-7,14],[']',7,18.4]]},
 {x:38,y:579,parts:[['ζ',0,18.4]],italic:true},
 {x:38,y:738,parts:[['ΔT',0,18.4],['air',4,13.5],[' [°C]',-4,18.4]]},
 {x:38,y:897,parts:[['WD [°]',0,18.4]]},
 {x:44,y:1056,parts:[['N [%]',0,18.4]]},
 {x:44,y:1215,parts:[['N [%]',0,18.4]]}
];
yTitles.forEach(spec=>{
  const t=add(svg,'text',{x:spec.x,y:spec.y,'text-anchor':'middle',transform:'rotate(-90 '+spec.x+' '+spec.y+')',fill:'#111','font-style':spec.italic?'italic':'normal'});
  
  
  spec.parts.forEach(p=>add(t,'tspan',{dy:p[1],'font-size':p[2],'xml:space':'preserve'},p[0]));
});

/* ---------- colour bar ---------- */
const cb=add(svg,'rect',{x:1925,y:991,width:11.5,height:128,fill:'url(#wd-gradient)'});


colorbarTicks.forEach(v=>{
  const t=add(svg,'text',{x:1950,y:fx(1115-(v/360)*118+5),'font-size':14.4,fill:'#111'},String(v));
  
  
});
const cbTitle=add(svg,'text',{x:1999,y:1056,'text-anchor':'middle','font-size':15.8,fill:'#111',transform:'rotate(-90 1999 1056)'},'WD [°]');



/* ---------- stability legend ---------- */
legendLabels.forEach((label,i)=>{
  const y=1177+i*18.7;
  const sw=add(svg,'rect',{x:1925.5,y:fx(y-5.5),width:11,height:11,fill:legendColors[i],stroke:'#222','stroke-width':1.1});
  
  
  const t=add(svg,'text',{x:1950,y:fx(y+5),'font-size':14.3,fill:'#111'},label);
  
  
});
</script>
</body>
</html>
